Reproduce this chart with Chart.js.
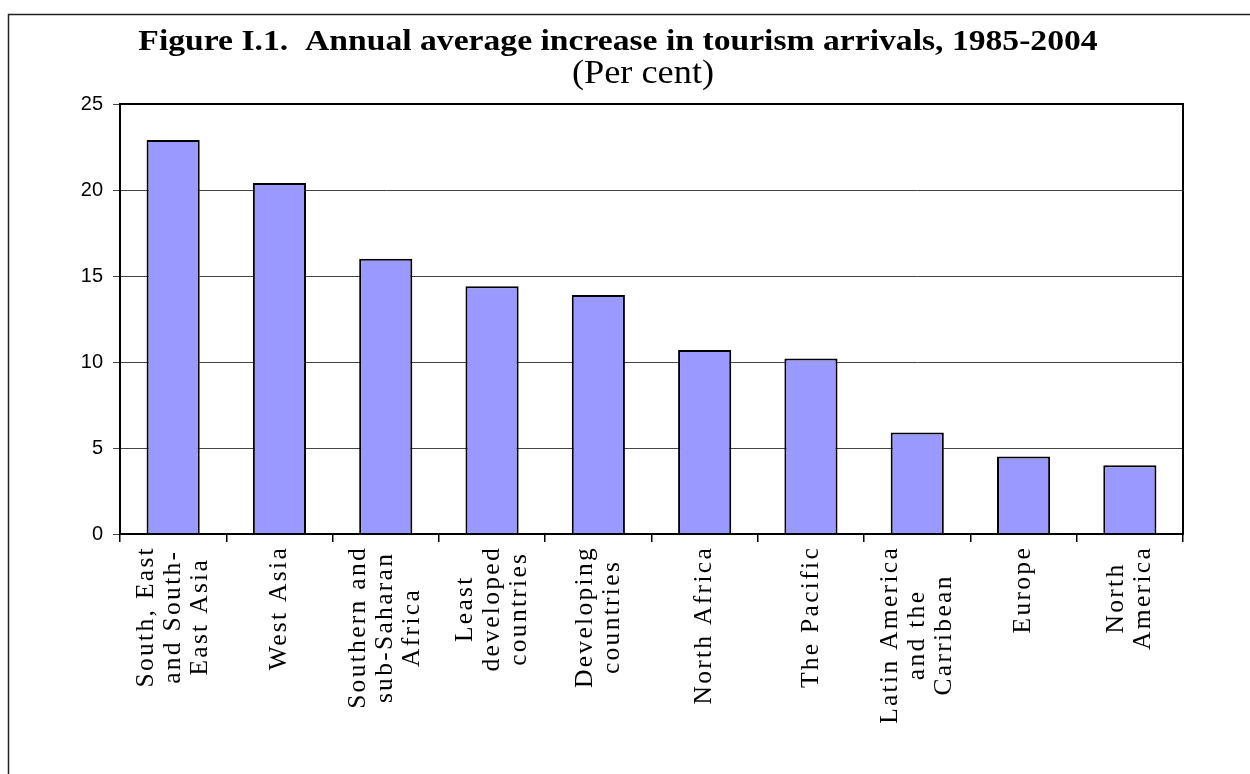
<!DOCTYPE html>
<html>
<head>
<meta charset="utf-8">
<script src="https://cdn.jsdelivr.net/npm/chart.js@4.4.0/dist/chart.umd.min.js"></script>
<style>
  body { margin: 0; background: #fff; }
  #contenedor { width: 1250px; height: 774px; position: relative; }
</style>
</head>
<body>
<div id="contenedor"><canvas id="grafico"></canvas></div>
<script>
const titulo = 'Figure I.1.  Annual average increase in tourism arrivals, 1985-2004';
const subtitulo = '(Per cent)';

// etiquetas del eje X (una linea por elemento)
const regiones = [
  ['South, East', 'and South-', 'East Asia'],
  ['West Asia'],
  ['Southern and', 'sub-Saharan', 'Africa'],
  ['Least', 'developed', 'countries'],
  ['Developing', 'countries'],
  ['North Africa'],
  ['The Pacific'],
  ['Latin America', 'and the', 'Carribean'],
  ['Europe'],
  ['North', 'America'],
];
const aumento = [22.9, 20.4, 16.0, 14.4, 13.9, 10.7, 10.2, 5.9, 4.5, 4.0];
const marcasY = [0, 5, 10, 15, 20, 25];

const estirar = 1.16; // el titulo original viene algo estirado a lo ancho

const ctx = document.getElementById('grafico');

// marco exterior y borde del area del grafico
const marco = {
  id: 'marco',
  beforeDraw(chart) {
    const c = chart.ctx;
    c.save();
    c.fillStyle = '#fff';
    c.fillRect(0, 0, chart.width, chart.height);
    c.strokeStyle = '#222';
    c.lineWidth = 1.5;
    c.beginPath();
    c.moveTo(8.5, chart.height);
    c.lineTo(8.5, 14.5);
    c.lineTo(chart.width, 14.5);
    c.stroke();
    c.restore();
  },
  afterDraw(chart) {
    const { left, top, right, bottom } = chart.chartArea;
    const c = chart.ctx;
    c.save();
    c.strokeStyle = '#000';
    c.lineWidth = 2;
    c.strokeRect(left, top, right - left, bottom - top);
    c.restore();
  }
};

// titulo y subtitulo
const titulos = {
  id: 'titulos',
  afterDraw(chart) {
    const c = chart.ctx;
    c.save();
    c.fillStyle = '#000';
    c.textAlign = 'center';
    c.textBaseline = 'alphabetic';
    c.translate(618, 50);
    c.scale(estirar, 1);
    c.font = 'bold 29px "Liberation Serif"';
    c.fillText(titulo, 0, 0);
    c.restore();

    c.save();
    c.fillStyle = '#000';
    c.textAlign = 'center';
    c.translate(643, 83);
    c.scale(1.1, 1);
    c.font = '33px "Liberation Serif"';
    c.fillText(subtitulo, 0, 0);
    c.restore();
  }
};

// etiquetas verticales del eje X, con lineas centradas entre si
const etiquetasX = {
  id: 'etiquetasX',
  afterDraw(chart) {
    const c = chart.ctx;
    const escalaX = chart.scales.x;
    c.save();
    c.font = '25.5px "Liberation Serif"';
    c.letterSpacing = '2.3px';
    c.fillStyle = '#000';
    c.textAlign = 'center';
    c.textBaseline = 'middle';
    regiones.forEach((lineas, i) => {
      const px = escalaX.getPixelForTick(i);
      const largo = Math.max(...lineas.map(l => c.measureText(l).width));
      const cy = chart.chartArea.bottom + 12 + largo / 2;
      lineas.forEach((linea, j) => {
        c.save();
        c.translate(px + (j - (lineas.length - 1) / 2) * 27, cy);
        c.rotate(-Math.PI / 2);
        c.fillText(linea, 0, 0);
        c.restore();
      });
    });
    c.restore();
  }
};

new Chart(ctx, {
  type: 'bar',
  data: {
    labels: regiones.map(l => l.join(' ')),
    datasets: [{
      data: aumento,
      backgroundColor: '#9999ff',
      borderColor: '#000',
      borderWidth: 2,
      barPercentage: 0.5,
      categoryPercentage: 1,
    }],
  },
  options: {
    responsive: true,
    maintainAspectRatio: false,
    animation: false,
    devicePixelRatio: 1,
    layout: { padding: { top: 104, right: 67, left: 0, bottom: 0 } },
    plugins: {
      legend: { display: false },
      tooltip: { enabled: false },
    },
    scales: {
      x: {
        grid: { offset: true, drawOnChartArea: false, color: '#000', lineWidth: 1.5, tickLength: 8 },
        border: { color: '#000', width: 2 },
        ticks: { display: false },
        afterFit: (s) => { s.height = 240; },
      },
      y: {
        min: marcasY[0],
        max: marcasY[marcasY.length - 1],
        ticks: {
          stepSize: marcasY[1] - marcasY[0],
          padding: 10,
          color: '#000',
          font: { family: 'Liberation Sans', size: 20 },
        },
        grid: { color: '#444', lineWidth: 1, tickLength: 7 },
        border: { color: '#000', width: 2 },
        afterFit: (s) => { s.width = 120; },
      },
    },
  },
  plugins: [marco, titulos, etiquetasX],
});
</script>
</body>
</html>
